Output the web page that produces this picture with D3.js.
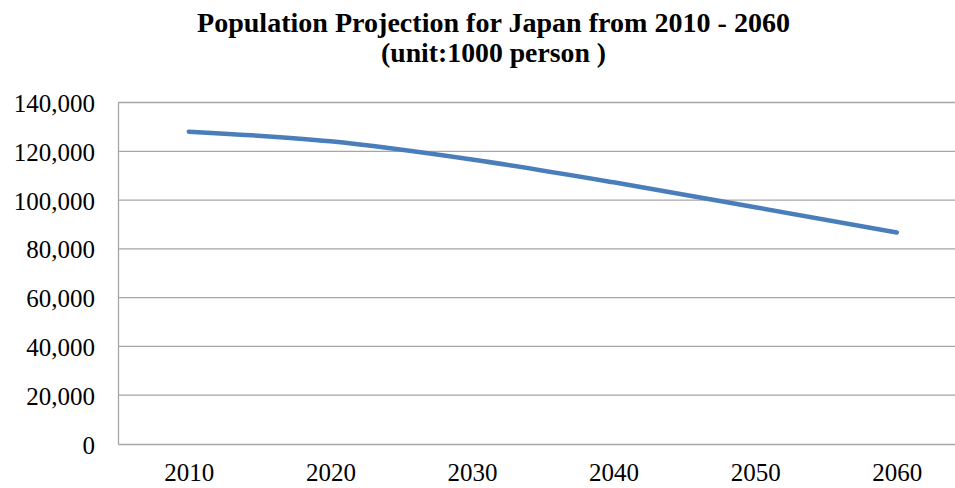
<!DOCTYPE html>
<html>
<head>
<meta charset="utf-8">
<script src="https://cdn.jsdelivr.net/npm/d3@7/dist/d3.min.js"></script>
<style>
  html, body { margin: 0; padding: 0; background: #fff; overflow: hidden; }
  svg { display: block; }
  .serif text, text.serif { font-family: "Liberation Serif", "Times New Roman", serif; }
</style>
</head>
<body>
<svg id="chart" width="955" height="488"></svg>
<script>
// Projected population of Japan, thousands of persons
const years = ["2010", "2020", "2030", "2040", "2050", "2060"];
const population = [128057, 124100, 116618, 107276, 97076, 86737];
const yTicks = [0, 20000, 40000, 60000, 80000, 100000, 120000, 140000];
const titleLines = ["Population Projection for Japan from 2010 - 2060", "(unit:1000 person )"];

const plot = { left: 118, top: 102.5, bottom: 444, right: 967.6 };

const svg = d3.select("#chart");

const x = d3.scalePoint().domain(years).range([plot.left, plot.right]).padding(0.5);
const y = d3.scaleLinear().domain([0, 140000]).range([plot.bottom, plot.top]);

const grey = "#a6a6a6";

// Horizontal gridlines
svg.append("g")
  .selectAll("line")
  .data(yTicks.filter(d => d > 0))
  .join("line")
  .attr("x1", plot.left).attr("x2", plot.right)
  .attr("y1", d => y(d)).attr("y2", d => y(d))
  .attr("stroke", grey).attr("stroke-width", 1.3);

// Y axis
const yAxis = svg.append("g")
  .attr("class", "serif")
  .attr("transform", `translate(${plot.left},0)`)
  .call(d3.axisLeft(y).tickValues(yTicks).tickSize(0).tickPadding(23)
    .tickFormat(d3.format(",")));
yAxis.attr("font-family", null).attr("font-size", 25);
yAxis.select(".domain").attr("stroke", grey).attr("stroke-width", 1.3);
yAxis.selectAll("text").attr("fill", "#000").attr("dy", "0.36em");

// X axis
const xAxis = svg.append("g")
  .attr("class", "serif")
  .attr("transform", `translate(0,${plot.bottom})`)
  .call(d3.axisBottom(x).tickSize(0).tickPadding(19));
xAxis.attr("font-family", null).attr("font-size", 25);
xAxis.select(".domain").attr("stroke", grey).attr("stroke-width", 1.3);
xAxis.selectAll("text").attr("fill", "#000");

// Population line
const line = d3.line()
  .x((d, i) => x(years[i]))
  .y(d => y(d))
  .curve(d3.curveMonotoneX);

svg.append("path")
  .datum(population)
  .attr("d", line)
  .attr("fill", "none")
  .attr("stroke", "#4a7ebb")
  .attr("stroke-width", 4.5)
  .attr("stroke-linecap", "round")
  .attr("stroke-linejoin", "round");

// Title, two centred lines
const title = svg.append("g")
  .attr("class", "serif")
  .attr("font-weight", "bold")
  .attr("font-size", 27)
  .attr("text-anchor", "middle")
  .attr("fill", "#000");
const titleSpec = [
  { y: 32, width: 593 },
  { y: 62, width: 225 }
];
titleLines.forEach((t, i) => {
  title.append("text")
    .attr("x", 493.5)
    .attr("y", titleSpec[i].y)
    .attr("textLength", titleSpec[i].width)
    .attr("lengthAdjust", "spacingAndGlyphs")
    .text(t);
});
</script>
</body>
</html>
